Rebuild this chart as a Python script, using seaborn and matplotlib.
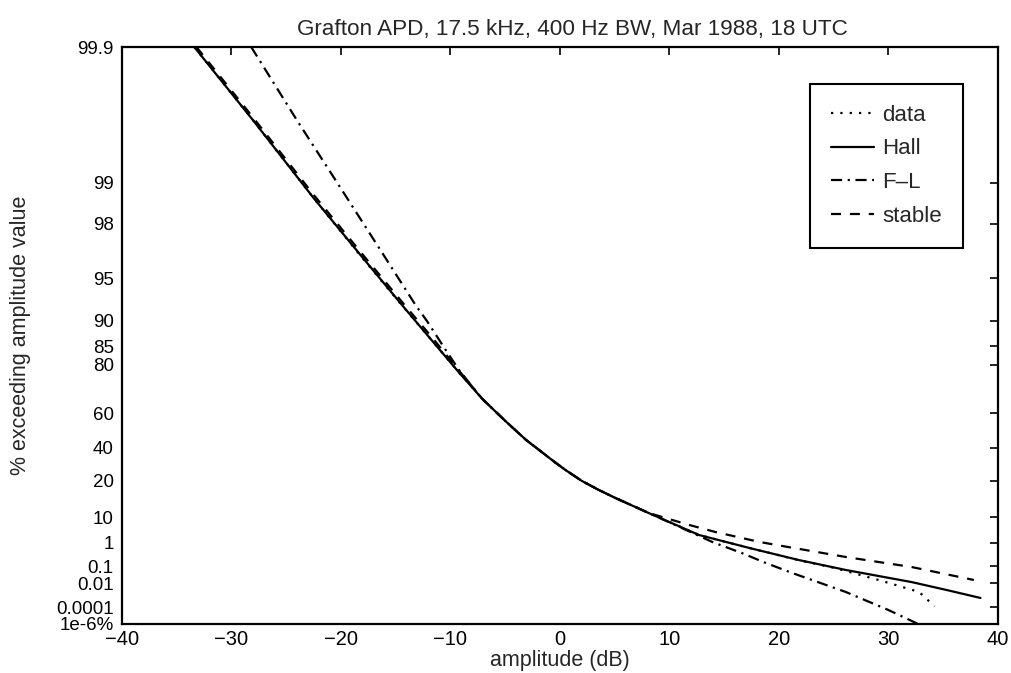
import numpy as np
import pandas as pd
import matplotlib
matplotlib.use("Agg")
import matplotlib.pyplot as plt
import seaborn as sns

# ---------------- data ----------------
title = "Grafton APD, 17.5 kHz, 400 Hz BW, Mar 1988, 18 UTC"
xlabel = "amplitude (dB)"
ylabel = "% exceeding amplitude value"

xticks = [-40, -30, -20, -10, 0, 10, 20, 30, 40]
# tick positions as they appear on the original (its "10" label sits at the 5 % level)
ytick_vals = [99.9, 99, 98, 95, 90, 85, 80, 60, 40, 20, 5, 1, 0.1, 0.01, 0.0001, 1e-6]
ytick_labels = ["99.9", "99", "98", "95", "90", "85", "80", "60", "40", "20",
                "10", "1", "0.1", "0.01", "0.0001", "1e-6%"]

data_amp = [-33.4, -28.0, -22.5, -18.0, -14.2, -11.5, -9.2, -7.1, -5.0, -3.1, -0.5, 0.5,
            2.0, 3.5, 5.0, 8.1, 12.7, 17.3, 21.8, 25.0, 29.1, 32.8, 34.2]
data_pct = [99.9, 99.65, 98.7, 96.4, 91.8, 85.7, 77.4, 67.1, 55.9, 44.8, 31.1, 26.2,
            19.9, 15.35, 11.7, 6.2, 1.74, 0.64, 0.2, 0.085, 0.0165, 2.3e-3, 1.2e-4]

hall_amp = [-33.4, -28.0, -22.5, -18.0, -14.2, -11.5, -9.2, -7.1, -5.0, -3.1, -0.5, 0.5,
            2.0, 3.5, 5.0, 8.1, 12.7, 17.3, 21.8, 26.1, 32.1, 35.5, 38.4]
hall_pct = [99.9, 99.65, 98.7, 96.44, 91.85, 85.7, 77.4, 67.1, 55.95, 44.8, 31.1, 26.2,
            19.9, 15.35, 11.7, 6.17, 1.74, 0.639, 0.203, 0.0646, 0.0121, 3.0e-3, 7.3e-4]

fl_amp = [-28.2, -24.0, -19.5, -16.0, -13.2, -12.1, -10.5, -9.2, -7.1, -5.0, -3.1, -0.5,
          0.5, 2.0, 3.5, 5.0, 8.1, 10.5, 13.9, 16.6, 18.8, 21.2, 26.1, 30.0, 32.5, 33.2]
fl_pct = [99.9, 99.65, 98.72, 96.5, 92.25, 89.8, 84.3, 78.2, 67.1, 55.95, 44.8, 31.1,
          26.2, 19.9, 15.35, 11.7, 6.17, 3.3, 1.05, 0.407, 0.147, 0.044, 2.3e-3, 4.9e-5,
          1.4e-6, 4e-7]

stable_amp = [-33.2, -28.0, -22.5, -18.0, -14.2, -11.5, -9.2, -7.1, -5.0, -3.1, -0.5, 0.5,
              2.0, 3.5, 5.0, 8.1, 11.8, 14.2, 18.2, 20.3, 26.1, 32.1, 37.8]
stable_pct = [99.9, 99.666, 98.77, 96.62, 92.25, 86.4, 78.0, 67.1, 55.95, 44.8, 31.1, 26.2,
              19.9, 15.35, 11.7, 6.17, 3.29, 2.13, 1.05, 0.757, 0.277, 0.0929, 0.0165]

# ---------------- style ----------------
sns.set_style("white")
plt.rcParams["font.family"] = ["Liberation Sans", "DejaVu Sans"]


def fwd(p):
    # Rayleigh-paper ordinate, increasing with % exceeding
    p = np.clip(np.asarray(p, dtype=float) / 100.0, 1e-300, 1 - 1e-16)
    return -np.log10(-np.log(p))


def inv(u):
    return 100.0 * np.exp(-np.power(10.0, -np.asarray(u, dtype=float)))


fig = plt.figure(figsize=(10.12, 6.73), dpi=100)
ax = fig.add_axes([122 / 1012, 1 - 624 / 673, 876 / 1012, 577 / 673])

LW = 1.6
series = [
    ("data", data_amp, data_pct, (0, (1, 3.2))),
    ("Hall", hall_amp, hall_pct, "-"),
    ("F\u2013L", fl_amp, fl_pct, (0, (5, 2.5, 1, 2.5))),
    ("stable", stable_amp, stable_pct, (0, (4.5, 4))),
]

for name, amp, pct, ls in series:
    df = pd.DataFrame({"amp": amp, "pct": pct})
    sns.lineplot(data=df, x="amp", y="pct", ax=ax, color="black", linewidth=LW,
                 linestyle=ls, estimator=None, sort=False, label=name)

ax.set_yscale("function", functions=(fwd, inv))
ax.set_xlim(-40, 40)
ax.set_ylim(1e-6, 99.9)
ax.set_xticks(xticks)
ax.set_xticklabels([str(t).replace("-", "\u2212") for t in xticks])
ax.set_yticks(ytick_vals)
ax.set_yticklabels(ytick_labels)
ax.minorticks_off()

ax.tick_params(axis="both", direction="in", length=6, width=1.2, top=True, right=True,
               colors="black")
ax.tick_params(axis="x", pad=4, labelsize=14.5)
ax.tick_params(axis="y", pad=6, labelsize=13.5)
for s in ax.spines.values():
    s.set_visible(True)
    s.set_color("black")
    s.set_linewidth(1.6)

ax.set_title(title, fontsize=16.2, pad=9, x=0.514)
ax.set_xlabel(xlabel, fontsize=15.5)
ax.set_ylabel(ylabel, fontsize=15.5)
ax.xaxis.set_label_coords(0.5, -0.045)
ax.yaxis.set_label_coords(-0.104, 0.5)

leg = ax.legend(loc="upper right", bbox_to_anchor=(0.96, 0.936), frameon=True,
                fancybox=False, edgecolor="black", framealpha=1, fontsize=16,
                handlelength=1.9, handletextpad=0.4, labelspacing=0.57,
                borderpad=0.94, borderaxespad=0)
leg.get_frame().set_linewidth(1.5)
for h in leg.get_lines():
    h.set_linewidth(LW)

fig.savefig("out.png", dpi=100)
